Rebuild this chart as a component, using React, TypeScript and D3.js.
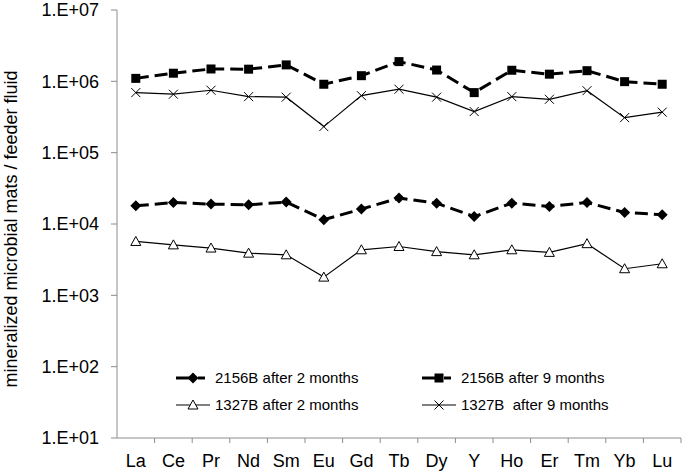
import React from "react";
import * as d3 from "d3";

const categories = ["La", "Ce", "Pr", "Nd", "Sm", "Eu", "Gd", "Tb", "Dy", "Y", "Ho", "Er", "Tm", "Yb", "Lu"];

const s2156after2 = [1.8e4, 2.0e4, 1.9e4, 1.86e4, 2.03e4, 1.15e4, 1.62e4, 2.31e4, 1.96e4, 1.27e4, 1.96e4, 1.76e4, 2.0e4, 1.45e4, 1.35e4];
const s2156after9 = [1.1e6, 1.3e6, 1.49e6, 1.48e6, 1.7e6, 9.1e5, 1.2e6, 1.89e6, 1.44e6, 6.95e5, 1.43e6, 1.26e6, 1.41e6, 9.9e5, 9.1e5];
const s1327after2 = [5.69e3, 5.1e3, 4.6e3, 3.9e3, 3.7e3, 1.8e3, 4.35e3, 4.84e3, 4.1e3, 3.7e3, 4.35e3, 4.0e3, 5.3e3, 2.36e3, 2.77e3];
const s1327after9 = [6.95e5, 6.6e5, 7.5e5, 6.1e5, 6.0e5, 2.32e5, 6.3e5, 7.75e5, 6.0e5, 3.77e5, 6.1e5, 5.6e5, 7.4e5, 3.1e5, 3.7e5];

const yTicks = [1e1, 1e2, 1e3, 1e4, 1e5, 1e6, 1e7];
const yTitle = "mineralized microbial mats / feeder fluid";

type MarkerKind = "diamond" | "square" | "triangle" | "cross";
type Series = { name: string; values: number[]; marker: MarkerKind; dashed: boolean };

const series: Series[] = [
  { name: "2156B after 2 months", values: s2156after2, marker: "diamond", dashed: true },
  { name: "2156B after 9 months", values: s2156after9, marker: "square", dashed: true },
  { name: "1327B after 2 months", values: s1327after2, marker: "triangle", dashed: false },
  { name: "1327B  after 9 months", values: s1327after9, marker: "cross", dashed: false },
];

const W = 684;
const H = 474;
const left = 117;
const right = 681;
const top = 10;
const bottom = 438;
const axisColor = "#8c8c8c";
const font = "'Liberation Sans', Arial, sans-serif";

const x = d3.scaleBand<string>().domain(categories).range([left, right]);
const y = d3.scaleLog().domain([1e1, 1e7]).range([bottom, top]);

const Marker = ({ kind, cx, cy }: { kind: MarkerKind; cx: number; cy: number }) => {
  if (kind === "diamond") {
    const r = 5.5;
    return <path d={`M${cx},${cy - r}L${cx + r},${cy}L${cx},${cy + r}L${cx - r},${cy}Z`} fill="#000" />;
  }
  if (kind === "square") {
    const r = 4.5;
    return <rect x={cx - r} y={cy - r} width={2 * r} height={2 * r} fill="#000" />;
  }
  if (kind === "triangle") {
    const r = 5;
    return (
      <path
        d={`M${cx},${cy - r}L${cx + r},${cy + r * 0.8}L${cx - r},${cy + r * 0.8}Z`}
        fill="#fff"
        stroke="#000"
        strokeWidth={1}
      />
    );
  }
  const r = 4.5;
  return (
    <path d={`M${cx - r},${cy - r}L${cx + r},${cy + r}M${cx - r},${cy + r}L${cx + r},${cy - r}`} stroke="#000" strokeWidth={1} />
  );
};

const App = () => {
  const cx = (c: string) => (x(c) ?? 0) + x.bandwidth() / 2;
  const line = d3
    .line<number>()
    .x((_, i) => cx(categories[i]))
    .y((d) => y(d));

  const legendPos = [
    { lx: 176, ty: 378 },
    { lx: 422, ty: 378 },
    { lx: 176, ty: 405 },
    { lx: 422, ty: 405 },
  ];

  return (
    <div style={{ position: "absolute", left: 0, top: 0 }}>
      <svg width={W} height={H} style={{ display: "block", background: "#fff" }} fontFamily={font}>
        {/* axes */}
        <line x1={left} x2={left} y1={top} y2={bottom} stroke={axisColor} />
        <line x1={left} x2={right} y1={bottom} y2={bottom} stroke={axisColor} />
        {yTicks.map((t) => (
          <g key={t}>
            <line x1={left - 6} x2={left} y1={y(t)} y2={y(t)} stroke={axisColor} />
            <text x={99} y={y(t)} dy="0.36em" textAnchor="end" fontSize={18} fill="#000">
              {`1.E+${String(Math.round(Math.log10(t))).padStart(2, "0")}`}
            </text>
          </g>
        ))}
        {categories.map((c) => (
          <g key={c}>
            <line x1={(x(c) ?? 0) + x.bandwidth()} x2={(x(c) ?? 0) + x.bandwidth()} y1={bottom} y2={bottom + 5} stroke={axisColor} />
            <text x={cx(c)} y={467} textAnchor="middle" fontSize={18} fill="#000">
              {c}
            </text>
          </g>
        ))}
        <text
          transform={`translate(17,${(top + bottom) / 2 + 5}) rotate(-90)`}
          textAnchor="middle"
          fontSize={18}
          fill="#000"
        >
          {yTitle}
        </text>

        {/* series */}
        {series.map((s) => (
          <g key={s.name}>
            <path
              d={line(s.values) ?? ""}
              fill="none"
              stroke="#000"
              strokeWidth={s.dashed ? 3 : 1.2}
              strokeDasharray={s.dashed ? "13 6" : undefined}
            />
            {s.values.map((v, i) => (
              <Marker key={i} kind={s.marker} cx={cx(categories[i])} cy={y(v)} />
            ))}
          </g>
        ))}

        {/* legend */}
        {series.map((s, i) => {
          const p = legendPos[i];
          return (
            <g key={s.name}>
              {s.dashed ? (
                <>
                  <line x1={p.lx} x2={p.lx + 14} y1={p.ty} y2={p.ty} stroke="#000" strokeWidth={3} />
                  <line x1={p.lx + 22} x2={p.lx + 29} y1={p.ty} y2={p.ty} stroke="#000" strokeWidth={3} />
                </>
              ) : (
                <line x1={p.lx} x2={p.lx + 34} y1={p.ty} y2={p.ty} stroke="#000" strokeWidth={1.2} />
              )}
              <Marker kind={s.marker} cx={p.lx + 17} cy={p.ty} />
              <text x={p.lx + 39} y={p.ty} dy="0.36em" fontSize={15} fill="#000" style={{ whiteSpace: "pre" }}>
                {s.name}
              </text>
            </g>
          );
        })}
      </svg>
    </div>
  );
};

export default App;
